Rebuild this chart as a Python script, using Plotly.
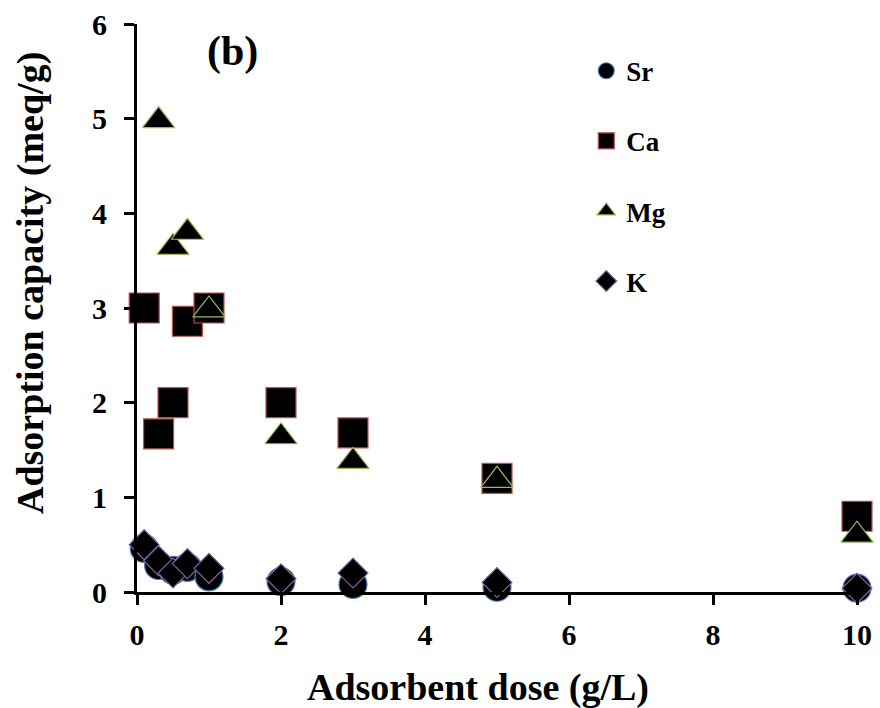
import plotly.graph_objects as go

# Data
dose_sr = [0.1, 0.3, 0.5, 0.7, 1, 2, 3, 5, 10]
sr = [0.46, 0.28, 0.23, 0.26, 0.16, 0.11, 0.08, 0.05, 0.04]

dose_ca = [0.1, 0.3, 0.5, 0.7, 1, 2, 3, 5, 10]
ca = [3.0, 1.67, 2.0, 2.86, 3.0, 2.0, 1.68, 1.2, 0.8]

dose_mg = [0.3, 0.5, 0.7, 1, 2, 3, 5, 10]
mg = [4.98, 3.64, 3.80, 2.98, 1.64, 1.38, 1.18, 0.6]

dose_k = [0.1, 0.3, 0.5, 0.7, 1, 2, 3, 5, 10]
k = [0.5, 0.33, 0.2, 0.3, 0.25, 0.14, 0.2, 0.1, 0.04]

x_ticks = [0, 2, 4, 6, 8, 10]
y_ticks = [0, 1, 2, 3, 4, 5, 6]

FONT = "Liberation Serif"

fig = go.Figure()
series = [
    ("Sr", dose_sr, sr, "circle", 28, "#4f81bd"),
    ("Ca", dose_ca, ca, "square", 30, "#c0504d"),
    ("Mg", dose_mg, mg, "triangle-up", 28, "#9bbb59"),
    ("K", dose_k, k, "diamond", 23, "#8064a2"),
]
for name, xs, ys, sym, size, edge in series:
    fig.add_trace(go.Scatter(
        x=xs, y=ys, mode="markers", name=name, legendgroup=name,
        cliponaxis=False,
        marker=dict(symbol=sym, size=size, color="black",
                    line=dict(color=edge, width=1.2)),
    ))

fig.update_layout(
    width=880, height=708,
    margin=dict(l=137, r=23, t=24, b=116, autoexpand=False),
    paper_bgcolor="white", plot_bgcolor="white",
    font=dict(family=FONT, color="black"),
    showlegend=True,
    legend=dict(
        x=0.624, y=0.96, xanchor="left", yanchor="top",
        font=dict(family=FONT, size=27, color="black", weight="bold"),
        itemsizing="trace", tracegroupgap=32, bgcolor="rgba(0,0,0,0)",
    ),
    xaxis=dict(
        range=[0, 10], tickvals=x_ticks, showgrid=False, zeroline=False,
        showline=True, linecolor="black", linewidth=3,
        ticks="outside", ticklen=10, tickwidth=3, tickcolor="black",
        tickfont=dict(family=FONT, size=30, weight="bold"),
        ticklabelstandoff=4,
    ),
    yaxis=dict(
        range=[0, 6], tickvals=y_ticks, showgrid=False, zeroline=False,
        showline=True, linecolor="black", linewidth=3,
        ticks="outside", ticklen=10, tickwidth=3, tickcolor="black",
        tickfont=dict(family=FONT, size=30, weight="bold"),
        ticklabelstandoff=11,
    ),
    annotations=[
        dict(text="<b>(b)</b>", x=1.333, y=5.71, xref="x", yref="y",
             showarrow=False, font=dict(family=FONT, size=42, color="black")),
        dict(text="<b>Adsorbent dose (g/L)</b>", x=0.4736, y=-0.169,
             xref="paper", yref="paper", xanchor="center", yanchor="middle",
             showarrow=False, font=dict(family=FONT, size=38, color="black")),
        dict(text="<b>Adsorption capacity (meq/g)</b>", x=-0.1486, y=0.544,
             xref="paper", yref="paper", xanchor="center", yanchor="middle",
             textangle=-90, showarrow=False,
             font=dict(family=FONT, size=38, color="black")),
    ],
)

fig.write_html(
    "out.html",
    config={"displayModeBar": False},
    post_script="document.body.style.margin='0';document.body.style.overflow='hidden';",
)
